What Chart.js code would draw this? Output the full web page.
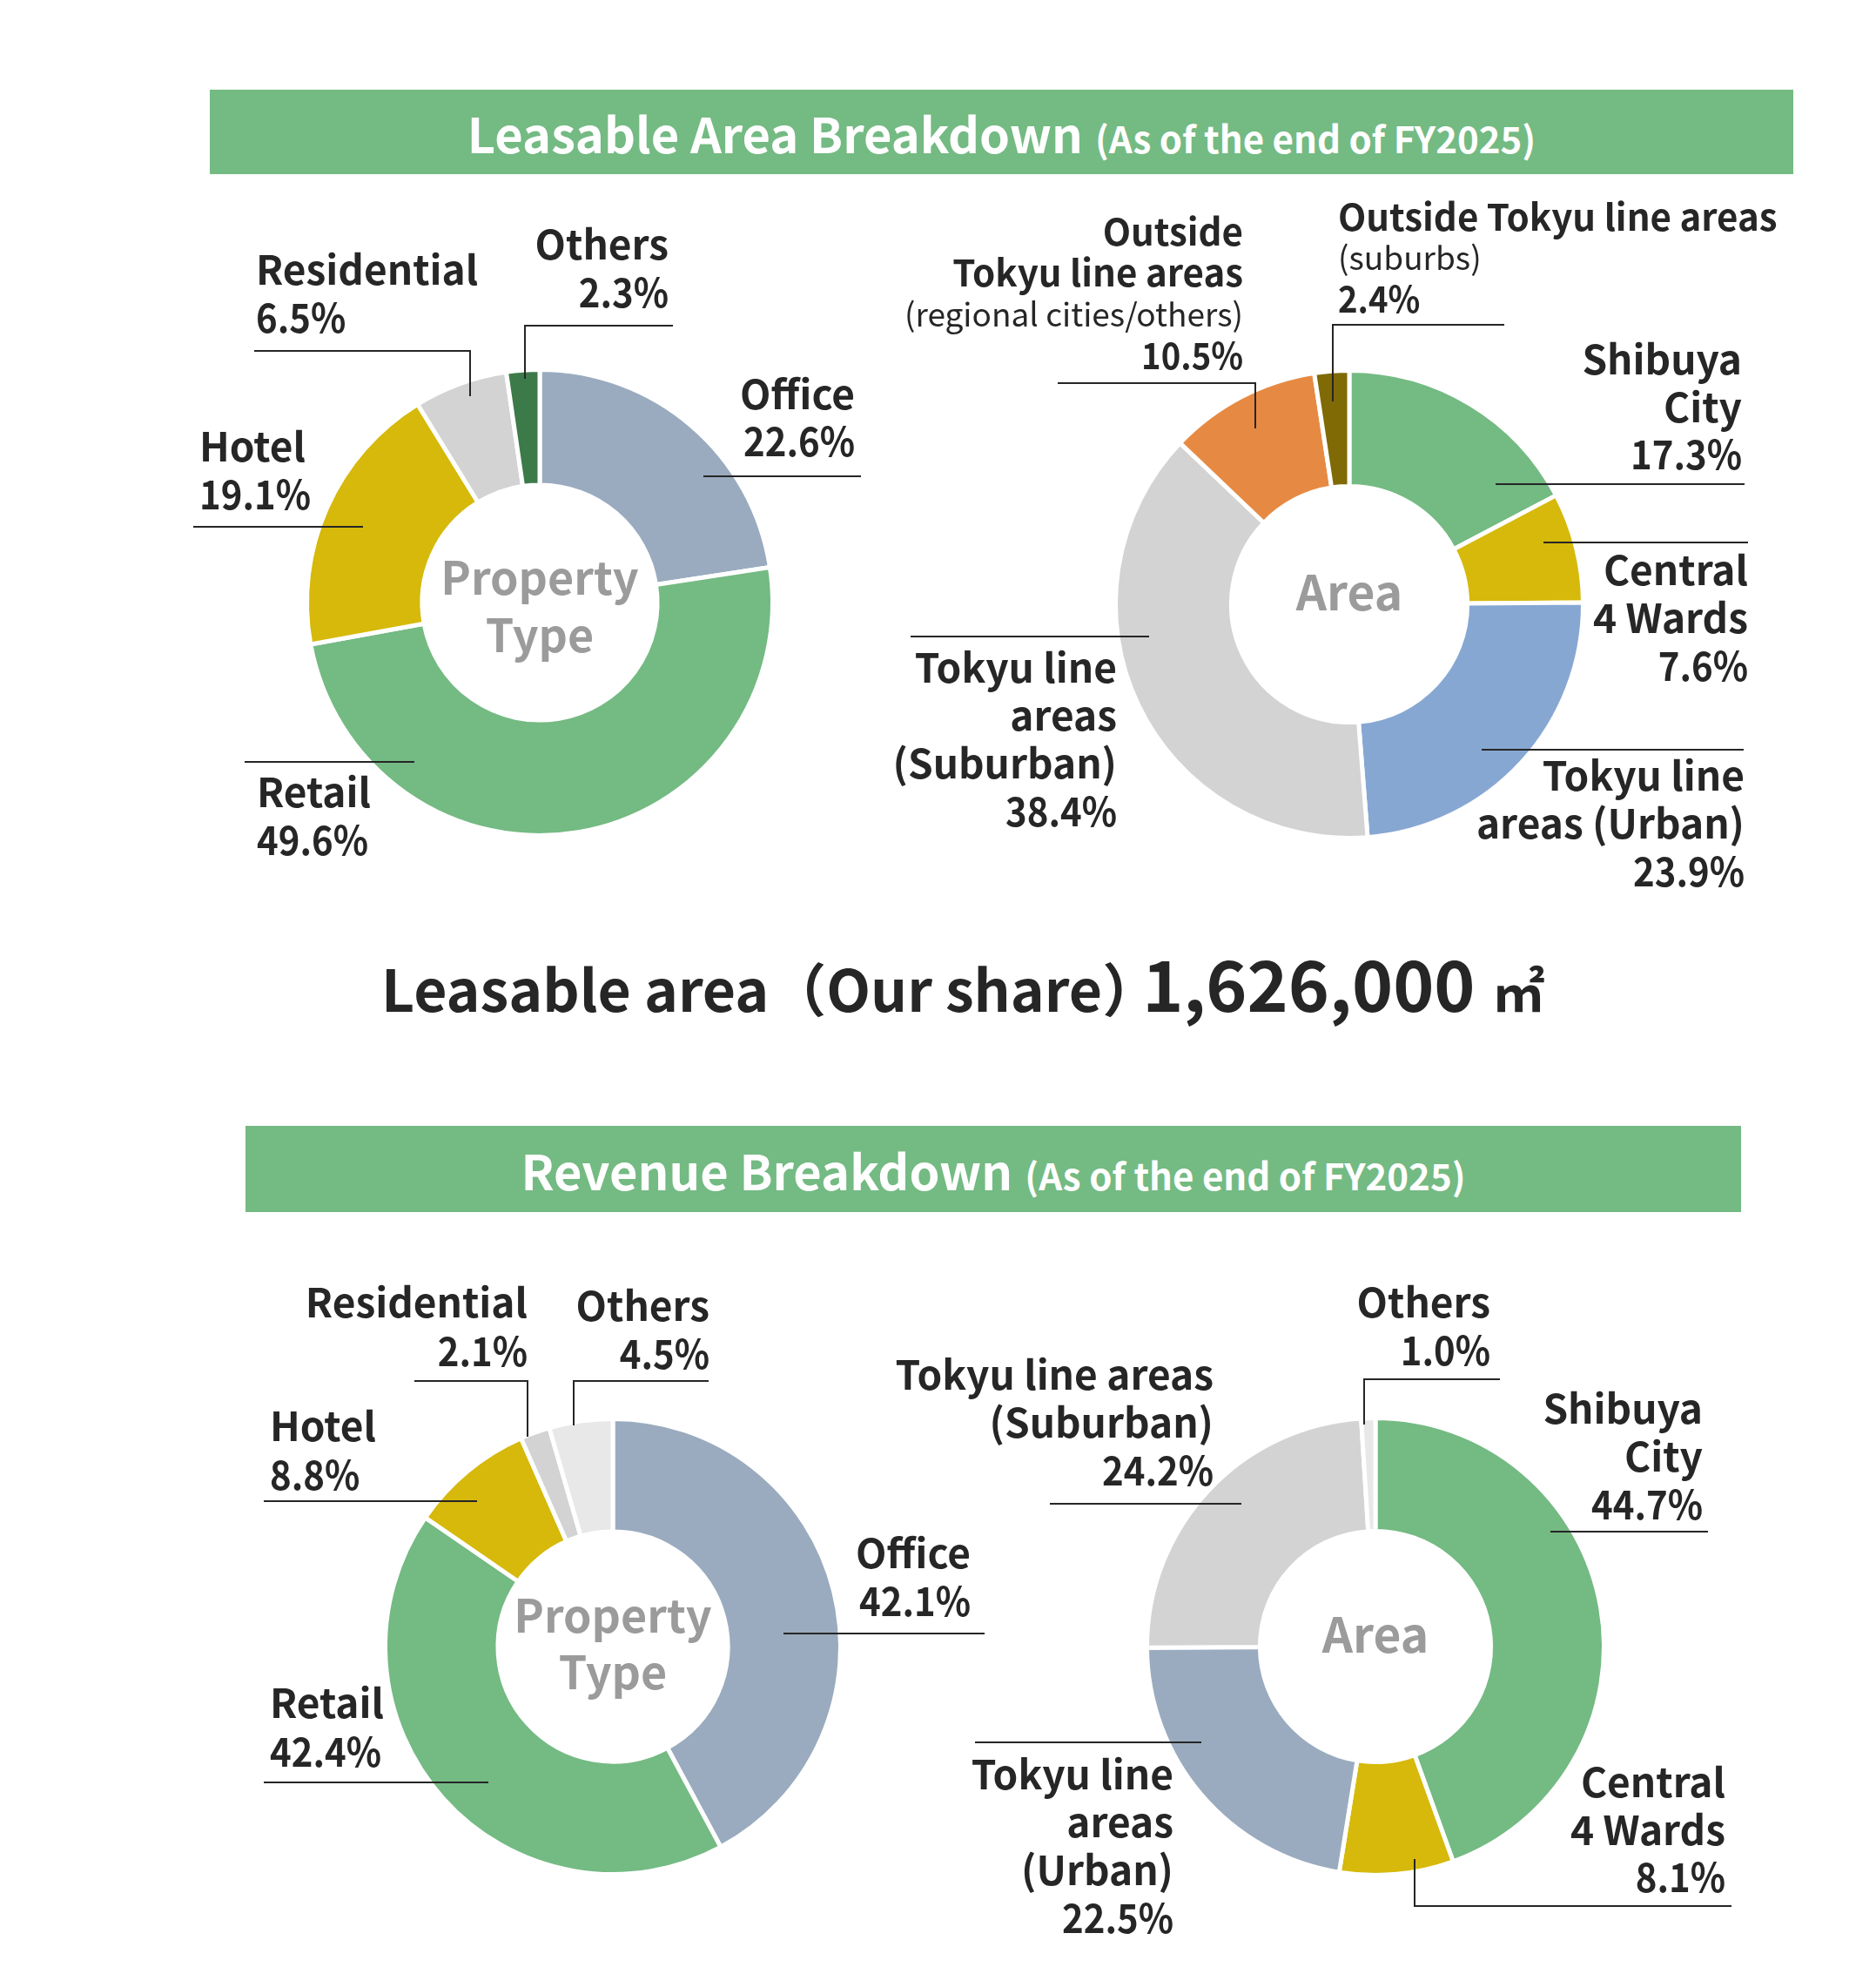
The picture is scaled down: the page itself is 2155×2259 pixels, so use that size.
<!DOCTYPE html>
<html>
<head>
<meta charset="utf-8">
<script src="https://cdn.jsdelivr.net/npm/chart.js@4.4.1/dist/chart.umd.min.js"></script>
<style>
  body { margin: 0; width: 2155px; height: 2259px; background: #fff; position: relative; overflow: hidden;
         font-family: "Noto Sans CJK JP", "Noto Sans", sans-serif; color: #262626; }
  .banner { position: absolute; background: #74ba83; color: #fff; font-weight: bold;
            display: flex; justify-content: center; align-items: baseline; box-sizing: border-box; line-height: 1; }
  .banner .big { font-size: 56px; }
  .banner .small { font-size: 42px; margin-left: 14px; }
  .total { position: absolute; left: 438px; top: 1087px; display: flex; align-items: baseline;
           font-weight: bold; white-space: nowrap; line-height: 1; }
  canvas { position: absolute; }
</style>
</head>
<body>

<div class="banner" id="b1" style="left:241px; top:103px; width:1819px; height:97px; padding-top:21px;">
  <span class="big">Leasable Area Breakdown</span><span class="small">(As of the end of FY2025)</span>
</div>

<div class="total">
  <span style="font-size:66px;">Leasable area（Our share）</span>
  <span id="totalValue" style="font-size:80px; margin-left:-20px;"></span>
  <span style="font-size:60px; margin-left:20px;">㎡</span>
</div>

<div class="banner" id="b2" style="left:282px; top:1293px; width:1718px; height:99px; padding-top:22px;">
  <span class="big">Revenue Breakdown</span><span class="small">(As of the end of FY2025)</span>
</div>

<canvas id="chart1" width="880" height="800" style="left:150px; top:230px;"></canvas>
<canvas id="chart2" width="1155" height="830" style="left:1000px; top:220px;"></canvas>
<canvas id="chart3" width="900" height="819" style="left:250px; top:1440px;"></canvas>
<canvas id="chart4" width="1165" height="819" style="left:990px; top:1440px;"></canvas>

<script>
// valores (%)

const typeLabels = ['Office', 'Retail', 'Hotel', 'Residential', 'Others'];
const leasableTypeValues = [22.6, 49.6, 19.1, 6.5, 2.3];
const revenueTypeValues = [42.1, 42.4, 8.8, 2.1, 4.5];

const leasableAreaLabels = [
  'Shibuya City',
  'Central 4 Wards',
  'Tokyu line areas (Urban)',
  'Tokyu line areas (Suburban)',
  'Outside Tokyu line areas (regional cities/others)',
  'Outside Tokyu line areas (suburbs)',
];
const leasableAreaValues = [17.3, 7.6, 23.9, 38.4, 10.5, 2.4];

const revenueAreaLabels = [
  'Shibuya City',
  'Central 4 Wards',
  'Tokyu line areas (Urban)',
  'Tokyu line areas (Suburban)',
  'Others',
];
const revenueAreaValues = [44.7, 8.1, 22.5, 24.2, 1.0];

const leasableTotal = '1,626,000';

// cores

const GREEN = '#74ba83', GREYBLUE = '#9aabbf', YELLOW = '#d6b90a', LIGHTGREY = '#d3d3d3',
      DARKGREEN = '#3d7a4a', BLUE = '#87a7d3', ORANGE = '#e68a43', OLIVE = '#7f6a06', PALEGREY = '#e8e8e8';

const leasableTypeColors = [GREYBLUE, GREEN, YELLOW, LIGHTGREY, DARKGREEN];
const leasableAreaColors = [GREEN, YELLOW, BLUE, LIGHTGREY, ORANGE, OLIVE];
const revenueTypeColors = [GREYBLUE, GREEN, YELLOW, LIGHTGREY, PALEGREY];
const revenueAreaColors = [GREEN, YELLOW, GREYBLUE, LIGHTGREY, PALEGREY];

const BORDER = 5;
const INK = '#262626';
const FONT = '"Noto Sans CJK JP", "Noto Sans", sans-serif';

document.getElementById('totalValue').textContent = leasableTotal;

// rotulos: posicoes em coordenadas da pagina ('~' = linha fina e menor)

const layout1 = {
  cx: 620, cy: 692, r: 265, center: ['Property', 'Type'], centerY: 663, centerLh: 66, centerSize: 52,
  items: [
    { lines: ['Office'], x: 982, align: 'right', y: 453, lh: 54, leader: [[808, 547], [989, 547]] },
    { lines: ['Retail'], x: 295, align: 'left', y: 910, lh: 55, leader: [[281, 875], [476, 875]] },
    { lines: ['Hotel'], x: 229, align: 'left', y: 513, lh: 55, leader: [[222, 605], [417, 605]] },
    { lines: ['Residential'], x: 294, align: 'left', y: 310, lh: 55, leader: [[292, 403], [540, 403], [540, 455]] },
    { lines: ['Others'], x: 768, align: 'right', y: 281, lh: 55, leader: [[773, 374], [603, 374], [603, 435]] },
  ]
};

const layout2 = {
  cx: 1550, cy: 694, r: 266, center: ['Area'], centerY: 680, centerLh: 66, centerSize: 55,
  items: [
    { lines: ['Shibuya', 'City'], x: 2001, align: 'right', y: 413, lh: 54.5, leader: [[1718, 556], [2004, 556]] },
    { lines: ['Central', '4 Wards'], x: 2008, align: 'right', y: 655, lh: 55, leader: [[1773, 623], [2008, 623]] },
    { lines: ['Tokyu line', 'areas (Urban)'], x: 2004, align: 'right', y: 891, lh: 55, leader: [[1702, 861], [2003, 861]] },
    { lines: ['Tokyu line', 'areas', '(Suburban)'], x: 1283, align: 'right', y: 767, lh: 55, leader: [[1046, 731], [1320, 731]] },
    { lines: ['Outside', 'Tokyu line areas', '~(regional cities/others)'], x: 1428, align: 'right', y: 266, lh: 47.5, size: 42,
      leader: [[1215, 440], [1442, 440], [1442, 492]] },
    { lines: ['Outside Tokyu line areas', '~(suburbs)'], x: 1537, align: 'left', y: 249, lh: 47, size: 42,
      leader: [[1728, 373], [1531, 373], [1531, 461]] },
  ]
};

const layout3 = {
  cx: 704, cy: 1891, r: 259, center: ['Property', 'Type'], centerY: 1855, centerLh: 65, centerSize: 52,
  items: [
    { lines: ['Office'], x: 1115, align: 'right', y: 1784, lh: 55, leader: [[900, 1876], [1131, 1876]] },
    { lines: ['Retail'], x: 310, align: 'left', y: 1956, lh: 56, leader: [[303, 2047], [561, 2047]] },
    { lines: ['Hotel'], x: 310, align: 'left', y: 1638, lh: 55.5, leader: [[303, 1724], [548, 1724]] },
    { lines: ['Residential'], x: 606, align: 'right', y: 1496, lh: 56, leader: [[476, 1586], [606, 1586], [606, 1650]] },
    { lines: ['Others'], x: 815, align: 'right', y: 1500, lh: 55, leader: [[814, 1586], [659, 1586], [659, 1637]] },
  ]
};

const layout4 = {
  cx: 1580, cy: 1891, r: 260, center: ['Area'], centerY: 1877, centerLh: 66, centerSize: 55,
  items: [
    { lines: ['Shibuya', 'City'], x: 1956, align: 'right', y: 1618, lh: 55, leader: [[1781, 1759], [1962, 1759]] },
    { lines: ['Central', '4 Wards'], x: 1982, align: 'right', y: 2047, lh: 54.5, leader: [[1625, 2135], [1625, 2189], [1989, 2189]] },
    { lines: ['Tokyu line', 'areas', '(Urban)'], x: 1348, align: 'right', y: 2038, lh: 55, leader: [[1120, 2001], [1380, 2001]] },
    { lines: ['Tokyu line areas', '(Suburban)'], x: 1394, align: 'right', y: 1579, lh: 55, leader: [[1206, 1727], [1426, 1727]] },
    { lines: ['Others'], x: 1712, align: 'right', y: 1496, lh: 55, leader: [[1723, 1584], [1567, 1584], [1567, 1636]] },
  ]
};

// escreve texto com compressao horizontal
function squeezeText(ctx, t, x, y, sx) {
  ctx.save();
  ctx.translate(x, y);
  ctx.scale(sx, 1);
  ctx.fillText(t, 0, 0);
  ctx.restore();
}

// plugin dos rotulos com linhas de chamada

const calloutPlugin = {
  id: 'callouts',
  afterDraw(chart, args, opts) {
    const ctx = chart.ctx;
    const values = chart.data.datasets[0].data;
    const lay = opts.layout;
    ctx.save();
    ctx.translate(-opts.left, -opts.top);
    ctx.fillStyle = INK;
    ctx.strokeStyle = INK;
    ctx.lineWidth = 2;
    ctx.textBaseline = 'middle';

    lay.items.forEach((it, i) => {
      const size = it.size || 46;
      const lines = it.lines.concat([values[i].toFixed(1) + '%']);
      ctx.textAlign = it.align;
      lines.forEach((t, k) => {
        let sx = 1;
        if (t.startsWith('~')) {
          ctx.font = '400 37px ' + FONT;
          t = t.slice(1);
        } else {
          ctx.font = 'bold ' + size + 'px ' + FONT;
        }
        if (k === lines.length - 1) sx = 0.91;   // numeros mais estreitos
        squeezeText(ctx, t, it.x, it.y + k * it.lh, sx);
      });
      ctx.beginPath();
      it.leader.forEach((p, k) => k ? ctx.lineTo(p[0], p[1]) : ctx.moveTo(p[0], p[1]));
      ctx.stroke();
    });

    // texto do centro
    ctx.fillStyle = '#9b9b9b';
    ctx.textAlign = 'center';
    ctx.font = 'bold ' + lay.centerSize + 'px ' + FONT;
    lay.center.forEach((t, k) => ctx.fillText(t, lay.cx, lay.centerY + k * lay.centerLh));
    ctx.restore();
  }
};

// monta cada rosca

function makeDonut(id, labels, values, colors, lay) {
  const canvas = document.getElementById(id);
  const left = parseFloat(canvas.style.left), top = parseFloat(canvas.style.top);
  const half = lay.r + BORDER;          // raio visivel + borda
  const x = lay.cx - left, y = lay.cy - top;

  return new Chart(canvas, {
    type: 'doughnut',
    data: {
      labels: labels,
      datasets: [{
        data: values,
        backgroundColor: colors,
        borderColor: '#ffffff',
        borderWidth: BORDER,
        hoverOffset: 0,
        offset: 0,
      }]
    },
    options: {
      responsive: false,
      animation: false,
      devicePixelRatio: 1,
      events: [],
      cutout: '50.5%',
      layout: {
        padding: { left: x - half, top: y - half, right: canvas.width - x - half, bottom: canvas.height - y - half }
      },
      plugins: {
        legend: { display: false },
        tooltip: { enabled: false },
        callouts: { layout: lay, left: left, top: top }
      }
    },
    plugins: [calloutPlugin]
  });
}

const myChart1 = makeDonut('chart1', typeLabels, leasableTypeValues, leasableTypeColors, layout1);
const myChart2 = makeDonut('chart2', leasableAreaLabels, leasableAreaValues, leasableAreaColors, layout2);
const myChart3 = makeDonut('chart3', typeLabels, revenueTypeValues, revenueTypeColors, layout3);
const myChart4 = makeDonut('chart4', revenueAreaLabels, revenueAreaValues, revenueAreaColors, layout4);
</script>
</body>
</html>
